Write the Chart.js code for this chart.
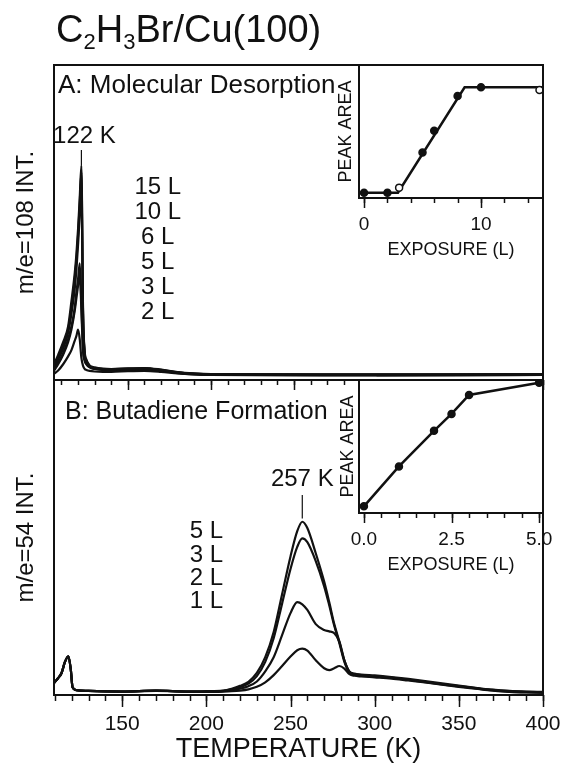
<!DOCTYPE html>
<html>
<head>
<meta charset="utf-8">
<script src="https://cdn.jsdelivr.net/npm/chart.js@4.4.1/dist/chart.umd.min.js"></script>
<style>
  html, body { margin: 0; padding: 0; background: #fff; }
  #wrap { position: relative; width: 565px; height: 764px; overflow: hidden;
          font-family: 'Liberation Sans', Arial, Helvetica, sans-serif; color: #111; }
  #wrap canvas { position: absolute; left: 0; top: 0; }
  #title { position: absolute; left: 56px; top: 10px; font-size: 38px; line-height: 1; white-space: nowrap; }
  #title sub { font-size: 22px; vertical-align: -7px; line-height: 0; }
</style>
</head>
<body>
<div id="wrap">
  <canvas id="tpdA" width="565" height="764"></canvas>
  <canvas id="tpdB" width="565" height="764"></canvas>
  <canvas id="areaA" width="565" height="764"></canvas>
  <canvas id="areaB" width="565" height="764"></canvas>
  <div id="title">C<sub>2</sub>H<sub>3</sub>Br/Cu(100)</div>
</div>
<script>
const INK = '#111'
const FONT = "'Liberation Sans', Arial, Helvetica, sans-serif"

// ===== Panel A: m/e=108, molecular desorption =====
const peakA = 122
const tempA = [105.5, 108, 111, 114, 116, 118, 119, 120, 121, 122, 123, 124, 125, 127, 130, 135, 140, 150, 160, 170, 180, 190, 200, 250, 300, 350, 400]
const expLabelsA = ['15 L', '10 L', '6 L', '5 L', '3 L', '2 L']
const m108_15L = [5, 8, 12, 17, 25, 34, 40, 48, 58, 68, 22, 9, 6.5, 4.6, 4, 3.6, 3.5, 3.7, 3.8, 3.3, 2.5, 2.1, 1.9, 1.8, 1.8, 1.8, 1.9]
const m108_10L = [4.5, 7, 11, 16, 23, 32, 38, 46, 56, 66, 21, 8.5, 6.2, 4.4, 3.8, 3.5, 3.4, 3.6, 3.7, 3.2, 2.4, 2, 1.8, 1.7, 1.7, 1.7, 1.8]
const m108_6L = [4, 6.5, 10, 15, 21, 29, 35, 43, 52, 61, 20, 8, 6, 4.3, 3.7, 3.4, 3.3, 3.5, 3.6, 3.1, 2.3, 1.9, 1.8, 1.7, 1.6, 1.7, 1.7]
const m108_5L = [3.5, 5.5, 8.5, 13, 17, 23, 28, 32, 37, 24, 10, 6.5, 5.2, 4.1, 3.6, 3.3, 3.2, 3.4, 3.5, 3, 2.3, 1.9, 1.7, 1.6, 1.6, 1.6, 1.7]
const m108_3L = [3, 5, 8, 12, 16, 22, 26, 30, 34, 22, 9, 6, 5, 4, 3.5, 3.2, 3.1, 3.3, 3.4, 2.9, 2.2, 1.8, 1.7, 1.6, 1.5, 1.6, 1.6]
const m108_2L = [2, 3, 5, 7.5, 9.5, 12.5, 14, 16, 13, 7, 4.5, 3.5, 3.2, 2.9, 2.7, 2.6, 2.6, 2.8, 2.9, 2.6, 2.1, 1.8, 1.6, 1.5, 1.5, 1.5, 1.6]
const seriesA = [m108_15L, m108_10L, m108_6L, m108_5L, m108_3L, m108_2L]

// ===== Panel B: m/e=54, butadiene formation =====
const peakB = 257
const tempB = [109.5, 112, 114, 116, 118, 119.5, 120.5, 123, 130, 150, 170, 190, 200, 210, 215, 220, 225, 230, 235, 240, 245, 250, 254, 257, 260, 265, 270, 273, 276, 279, 282, 285, 288, 292, 300, 310, 320, 330, 340, 350, 360, 370, 380, 390, 400]
const expLabelsB = ['5 L', '3 L', '2 L', '1 L']
const m54_5L = [3.8, 5.4, 7, 10.5, 12.3, 8, 2.5, 1.5, 1.3, 1.1, 1.4, 1.1, 1.2, 1.4, 2, 2.9, 4.2, 7, 12, 20, 32, 44, 52, 55, 53, 45, 36, 29.5, 22.5, 17, 11, 7.5, 6.8, 6.5, 6.2, 5.7, 5.1, 4.4, 3.7, 3, 2.3, 1.7, 1.3, 1.1, 1]
const m54_3L = [3.8, 5.4, 7, 10.5, 12.3, 8, 2.5, 1.5, 1.3, 1.1, 1.4, 1.1, 1.1, 1.3, 1.8, 2.5, 3.6, 6, 10.5, 18, 29, 40, 47, 49.7, 48.5, 42.5, 34.5, 28.5, 22, 16.5, 10.5, 7.2, 6.6, 6.3, 6, 5.5, 4.9, 4.2, 3.5, 2.8, 2.2, 1.6, 1.2, 1, 0.9]
const m54_2L = [3.8, 5.4, 7, 10.5, 12.3, 8, 2.5, 1.5, 1.3, 1.1, 1.4, 1.1, 1.1, 1.2, 1.5, 2, 2.8, 4.3, 7.5, 12, 19, 26, 29.5, 28.8, 27, 22.5, 20.6, 20.2, 19.6, 17, 11, 7.3, 6.5, 6.2, 5.9, 5.4, 4.8, 4.1, 3.4, 2.7, 2.1, 1.5, 1.1, 0.9, 0.8]
const m54_1L = [3.8, 5.4, 7, 10.5, 12.3, 8, 2.5, 1.5, 1.3, 1.1, 1.3, 1.1, 1, 1.1, 1.2, 1.4, 1.8, 2.6, 4, 6.3, 9.2, 12.2, 14.2, 14.7, 14.1, 11, 8.5, 7.9, 8.5, 9.2, 8.4, 6.6, 6.1, 5.9, 5.6, 5.2, 4.6, 4, 3.3, 2.6, 2, 1.4, 1, 0.8, 0.7]
const seriesB = [m54_5L, m54_3L, m54_2L, m54_1L]

// ===== Insets: peak area vs exposure =====
const insetAExposure = [0, 2, 3, 5, 6, 8, 10, 15]
const insetAArea = [4, 4, 7.8, 34.3, 50.6, 76.7, 83.2, 81.2]
const insetAOpen = [false, false, true, false, false, false, false, true]
const insetAFitX = [0, 2.9, 8.6, 15.4]
const insetAFitY = [4, 4, 83.2, 83.2]
const insetBExposure = [0, 1, 2, 2.5, 3, 5]
const insetBArea = [5, 35, 61.8, 74.5, 88.8, 98]

// axis tick labels
const tempTickLabels = [150, 200, 250, 300, 350, 400]
const insetATickLabels = [0, 10]
const insetBTickLabels = [0, 2.5, 5]

function range(a, b, step) {
  const out = []
  for (let v = a; v <= b + 1e-9; v += step) out.push(+v.toFixed(3))
  return out
}

function pts(xs, ys) {
  return xs.map((x, i) => ({ x: x, y: ys[i] }))
}

// frame, hanging tick marks and text annotations
const panelDecor = {
  id: 'panelDecor',
  beforeDatasetsDraw(chart, args, opts) {
    if (!opts.fill) return
    const { ctx, chartArea: a } = chart
    ctx.save()
    ctx.fillStyle = opts.fill
    ctx.fillRect(a.left, a.top, a.width, a.height)
    ctx.restore()
  },
  afterDraw(chart, args, opts) {
    const { ctx, chartArea: a, scales } = chart
    const sx = scales.x, sy = scales.y
    ctx.save()
    ctx.strokeStyle = INK
    ctx.fillStyle = INK
    ctx.lineWidth = 2
    ctx.strokeRect(a.left, a.top, a.width, a.height)

    ctx.lineWidth = 1.5
    const hang = (vals, len) => vals.forEach(v => {
      const px = Math.round(sx.getPixelForValue(v)) + 0.5
      ctx.beginPath()
      ctx.moveTo(px, a.bottom)
      ctx.lineTo(px, a.bottom + len)
      ctx.stroke()
    })
    if (opts.minor) hang(opts.minor, opts.minorLen)
    if (opts.major) hang(opts.major, opts.majorLen)

    ctx.textBaseline = 'middle'
    if (opts.panelLabel) {
      const p = opts.panelLabel
      ctx.font = `${p.size}px ${FONT}`
      ctx.textAlign = 'left'
      ctx.fillText(p.text, a.left + p.dx, a.top + p.dy)
    }
    if (opts.list) {
      const l = opts.list
      ctx.font = `${l.size}px ${FONT}`
      ctx.textAlign = 'center'
      const x0 = sx.getPixelForValue(l.x)
      const y0 = sy.getPixelForValue(l.y)
      l.text.forEach((t, i) => ctx.fillText(t, x0, y0 + i * l.step))
    }
    if (opts.peak) {
      const p = opts.peak
      ctx.font = `${p.size}px ${FONT}`
      ctx.textAlign = 'center'
      const px = sx.getPixelForValue(p.x)
      ctx.fillText(p.x + ' K', px + p.dx, sy.getPixelForValue(p.labelY))
      ctx.lineWidth = 1.2
      ctx.beginPath()
      ctx.moveTo(px, sy.getPixelForValue(p.y1))
      ctx.lineTo(px, sy.getPixelForValue(p.y2))
      ctx.stroke()
    }
    ctx.restore()
  }
}

function tpdDatasets(temps, series) {
  return series.map(ys => ({
    data: pts(temps, ys),
    borderColor: INK,
    borderWidth: 2.2,
    pointRadius: 0,
    cubicInterpolationMode: 'monotone',
    fill: false
  }))
}

function yTitleScale(text, width, size, padTop) {
  return {
    min: 0, max: 100,
    ticks: { display: false },
    grid: { display: false, drawTicks: false },
    border: { display: false },
    title: { display: true, text: text, color: INK, font: { family: FONT, size: size }, padding: { top: padTop, bottom: 0 } },
    afterFit: s => { s.width = width }
  }
}

// keep the plot box fixed: no extra room claimed for edge labels
function fixHeight(h) {
  return s => { s.height = h; s.paddingLeft = 0; s.paddingRight = 0 }
}

const baseOpts = {
  responsive: false,
  animation: false,
  devicePixelRatio: 1,
  events: []
}

// Panel A
new Chart(document.getElementById('tpdA'), {
  type: 'line',
  data: { datasets: tpdDatasets(tempA, seriesA) },
  plugins: [panelDecor],
  options: {
    ...baseOpts,
    layout: { padding: { top: 65, right: 22, bottom: 764 - 380, left: 0 } },
    scales: {
      x: { type: 'linear', min: 105.5, max: 400, display: false },
      y: yTitleScale('m/e=108 INT.', 54, 24, 12)
    },
    plugins: {
      legend: { display: false },
      tooltip: { enabled: false },
      panelDecor: {
        minor: range(110, 400, 10), minorLen: 5,
        major: range(150, 400, 50), majorLen: 10,
        panelLabel: { text: 'A: Molecular Desorption', size: 26, dx: 4, dy: 21 },
        list: { text: expLabelsA, x: 168, y: 61.3, step: 25, size: 24 },
        peak: { x: peakA, dx: 3, labelY: 77.5, y1: 73, y2: 68, size: 24 }
      }
    }
  }
})

// Panel B
new Chart(document.getElementById('tpdB'), {
  type: 'line',
  data: { datasets: tpdDatasets(tempB, seriesB) },
  plugins: [panelDecor],
  options: {
    ...baseOpts,
    layout: { padding: { top: 380, right: 22, bottom: 0, left: 0 } },
    scales: {
      x: {
        type: 'linear', min: 109.5, max: 400,
        afterBuildTicks: s => { s.ticks = tempTickLabels.map(v => ({ value: v })) },
        ticks: { autoSkip: false, maxRotation: 0, padding: 17, color: INK, font: { family: FONT, size: 21 } },
        grid: { display: false, drawTicks: false },
        border: { display: false },
        title: { display: true, text: 'TEMPERATURE (K)', color: INK, font: { family: FONT, size: 27, lineHeight: 1.1 }, padding: 0 },
        afterFit: fixHeight(69)
      },
      y: yTitleScale('m/e=54 INT.', 54, 24, 12)
    },
    plugins: {
      legend: { display: false },
      tooltip: { enabled: false },
      panelDecor: {
        minor: range(110, 400, 10), minorLen: 6,
        major: range(150, 400, 50), majorLen: 12,
        panelLabel: { text: 'B: Butadiene Formation', size: 25, dx: 11, dy: 32 },
        list: { text: expLabelsB, x: 200, y: 51.8, step: 23.3, size: 24 },
        peak: { x: peakB, dx: 0, labelY: 68.3, y1: 63.5, y2: 56, size: 24 }
      }
    }
  }
})

function insetChart(id, top, left, yWidth, datasets, xMin, xMax, tickLabels, fmt, minor, major) {
  const insetBottom = top + 133
  return new Chart(document.getElementById(id), {
    type: 'line',
    data: { datasets: datasets },
    plugins: [panelDecor],
    options: {
      ...baseOpts,
      layout: { padding: { top: top, right: 22, bottom: 764 - insetBottom - 63, left: left } },
      scales: {
        x: {
          type: 'linear', min: xMin, max: xMax,
          afterBuildTicks: s => { s.ticks = tickLabels.map(v => ({ value: v })) },
          ticks: { autoSkip: false, maxRotation: 0, padding: 15, color: INK, font: { family: FONT, size: 19 }, callback: fmt },
          grid: { display: false, drawTicks: false },
          border: { display: false },
          title: { display: true, text: 'EXPOSURE (L)', color: INK, font: { family: FONT, size: 18 }, padding: 0 },
          afterFit: fixHeight(63)
        },
        y: yTitleScale('PEAK AREA', yWidth, 18, 0)
      },
      plugins: {
        legend: { display: false },
        tooltip: { enabled: false },
        panelDecor: { fill: '#fff', minor: minor, minorLen: 5, major: major, majorLen: 10 }
      }
    }
  })
}

// Inset A: uptake curve with fitted segments
insetChart('areaA', 65, 335, 24, [
  {
    data: pts(insetAExposure, insetAArea),
    showLine: false,
    pointRadius: 3.5,
    pointBorderWidth: 1.5,
    pointBorderColor: INK,
    pointBackgroundColor: insetAOpen.map(o => o ? '#fff' : INK)
  },
  {
    data: pts(insetAFitX, insetAFitY),
    borderColor: INK,
    borderWidth: 2.5,
    pointRadius: 0
  }
], -0.43, 15.3, insetATickLabels, v => String(v), range(0, 14, 2), [0, 10])

// Inset B
insetChart('areaB', 380, 337, 22, [
  {
    data: pts(insetBExposure, insetBArea),
    borderColor: INK,
    borderWidth: 2.5,
    pointRadius: 3.5,
    pointBorderWidth: 1.5,
    pointBorderColor: INK,
    pointBackgroundColor: INK
  }
], -0.14, 5.11, insetBTickLabels, v => v.toFixed(1), range(0, 5, 0.5), [0, 2.5, 5])
</script>
</body>
</html>
